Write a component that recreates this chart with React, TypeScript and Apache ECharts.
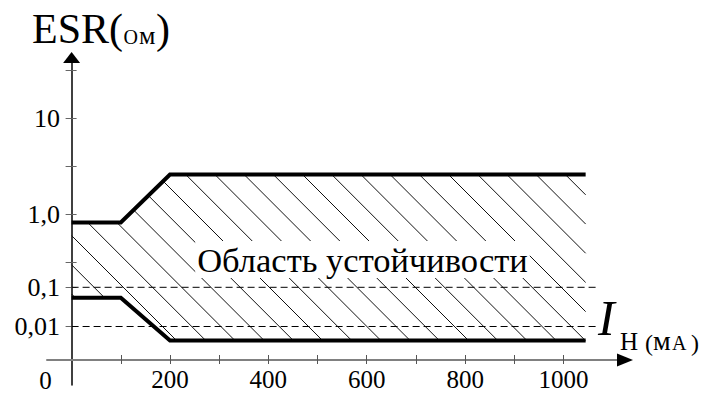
import React, { useEffect, useRef } from "react";
import * as echarts from "echarts";

// ---- data ----
const currentTicks = [100, 200, 300, 400, 500, 600, 700, 800, 900, 1000];
const currentLabels = [200, 400, 600, 800, 1000];

const esrLabelValues = [0.01, 0.1, 1, 10];
const esrLabelTexts = ["0,01", "0,1", "1,0", "10"];
const esrMinorTicks = [0.22, 3.2, 100];

// axis scale definition (schematic, non-uniform ESR axis)
const esrScaleValues = [0, 0.01, 0.1, 1, 10, 100];
const esrScaleLevels = [0, 33.5, 72.7, 145.3, 242, 290];

const upperCurrent = [0, 100, 200, 1045];
const upperEsr = [0.78, 0.78, 2.6, 2.6];
const lowerCurrent = [0, 100, 200, 1045];
const lowerEsr = [0.054, 0.054, 0.0058, 0.0058];

const guideEsr = [0.1, 0.01];
const guideCurrent = [0, 1066];

const FONT = "'Liberation Serif', 'Times New Roman', serif";

function esrLevel(v: number): number {
  if (v <= esrScaleValues[1]) return (v / esrScaleValues[1]) * esrScaleLevels[1];
  const n = esrScaleValues.length;
  for (let i = 1; i < n - 1; i++) {
    const a = esrScaleValues[i];
    const b = esrScaleValues[i + 1];
    if (v <= b || i === n - 2) {
      const t = (Math.log10(v) - Math.log10(a)) / (Math.log10(b) - Math.log10(a));
      return esrScaleLevels[i] + t * (esrScaleLevels[i + 1] - esrScaleLevels[i]);
    }
  }
  return 0;
}

const yLabelLevels = esrLabelValues.map(esrLevel);
const yTickLevels = esrLabelValues.concat(esrMinorTicks).map(esrLevel);

function labelFor(v: number): string {
  let best = 0;
  let bd = Infinity;
  yLabelLevels.forEach((l, i) => {
    const d = Math.abs(l - v);
    if (d < bd) {
      bd = d;
      best = i;
    }
  });
  return esrLabelTexts[best];
}

function interpY(pts: number[][], x: number): number {
  if (x <= pts[0][0]) return pts[0][1];
  for (let i = 0; i < pts.length - 1; i++) {
    if (x <= pts[i + 1][0]) {
      const t = (x - pts[i][0]) / (pts[i + 1][0] - pts[i][0]);
      return pts[i][1] + t * (pts[i + 1][1] - pts[i][1]);
    }
  }
  return pts[pts.length - 1][1];
}

function bisect(fn: (x: number) => number, a: number, b: number): number {
  let lo = a;
  let hi = b;
  for (let k = 0; k < 40; k++) {
    const m = (lo + hi) / 2;
    if (fn(m) < 0) lo = m;
    else hi = m;
  }
  return (lo + hi) / 2;
}

function renderHatch(params: any, api: any) {
  const up = upperCurrent.map((c, i) => api.coord([c, esrLevel(upperEsr[i])]));
  const lo = lowerCurrent.map((c, i) => api.coord([c, esrLevel(lowerEsr[i])]));
  const xL = up[0][0];
  const xR = up[up.length - 1][0];
  const origin = api.coord([0, 0]);
  const spacing = 29.2;
  const slope = 1;
  const phase = 7.6;
  // hatch lines: y = slope * x - c
  const c0 = slope * origin[0] - origin[1] + phase;
  const cMin = slope * xL - 400;
  const cMax = slope * xR - 100;
  const kMin = Math.floor((cMin - c0) / spacing);
  const kMax = Math.ceil((cMax - c0) / spacing);
  const children: any[] = [];
  for (let k = kMin; k <= kMax; k++) {
    const c = c0 + k * spacing;
    const f = (x: number) => slope * x - c - interpY(up, x);
    const g = (x: number) => slope * x - c - interpY(lo, x);
    if (f(xR) < 0) continue;
    if (g(xL) > 0) continue;
    const xa = f(xL) >= 0 ? xL : bisect(f, xL, xR);
    const xb = g(xR) <= 0 ? xR : bisect(g, xL, xR);
    if (xb - xa < 0.5) continue;
    children.push({
      type: "line",
      shape: { x1: xa, y1: slope * xa - c, x2: xb, y2: slope * xb - c },
      style: { stroke: "#111", lineWidth: 1 },
    });
  }
  return { type: "group", children };
}

export default function App() {
  const ref = useRef<HTMLDivElement>(null);
  useEffect(() => {
    if (!ref.current) return;
    const chart = echarts.init(ref.current, undefined, { renderer: "svg" });
    const xBase = {
      type: "value",
      min: -50,
      max: 1125,
      splitLine: { show: false },
    };
    const yBase = {
      type: "value",
      min: -25,
      max: 302.5,
      splitLine: { show: false },
    };
    const option: any = {
      animation: false,
      backgroundColor: "#fff",
      grid: { left: 47, right: 82, top: 57.5, bottom: 9, containLabel: false, outerBoundsMode: "none" },
      xAxis: [
        {
          ...xBase,
          axisLine: { show: true, onZero: true, onZeroAxisIndex: 0, lineStyle: { color: "#808080", width: 2 } },
          axisTick: { show: true, customValues: currentTicks, length: 4, lineStyle: { color: "#555", width: 1 } },
          axisLabel: {
            customValues: currentLabels,
            formatter: (v: number) => String(v),
            margin: -15.5,
            lineHeight: 20,
            color: "#000",
            fontFamily: FONT,
            fontSize: 25,
          },
        },
        {
          ...xBase,
          position: "bottom",
          axisLine: {
            show: true,
            onZero: true,
            onZeroAxisIndex: 0,
            symbol: ["none", "triangle"],
            symbolSize: [13, 16],
            lineStyle: { color: "#000", width: 0 },
          },
          axisTick: { show: true, inside: true, customValues: currentTicks, length: 5, lineStyle: { color: "#555", width: 1 } },
          axisLabel: { show: false },
        },
      ],
      yAxis: [
        {
          ...yBase,
          position: "left",
          axisLine: {
            show: true,
            onZero: true,
            onZeroAxisIndex: 0,
            symbol: ["none", "triangle"],
            symbolSize: [17, 11],
            lineStyle: { color: "#000", width: 1.5 },
          },
          axisTick: { show: true, customValues: yTickLevels, length: 6, lineStyle: { color: "#666", width: 1 } },
          axisLabel: {
            customValues: yLabelLevels,
            formatter: (v: number) => labelFor(v),
            margin: -13,
            color: "#000",
            fontFamily: FONT,
            fontSize: 26,
          },
        },
        {
          ...yBase,
          position: "left",
          axisLine: { show: false, onZero: true, onZeroAxisIndex: 0 },
          axisTick: { show: true, inside: true, customValues: yTickLevels, length: 5, lineStyle: { color: "#666", width: 1 } },
          axisLabel: { show: false },
        },
      ],
      series: [
        {
          type: "custom",
          name: "Hatch",
          xAxisIndex: 0,
          yAxisIndex: 0,
          renderItem: renderHatch,
          data: [[0, 0]],
          silent: true,
          z: 1,
          clip: false,
        },
        ...guideEsr.map((e) => ({
          type: "line",
          name: "ESR " + e,
          xAxisIndex: 0,
          yAxisIndex: 0,
          data: guideCurrent.map((c) => [c, esrLevel(e)]),
          showSymbol: false,
          symbol: "none",
          silent: true,
          lineStyle: { color: "#000", width: 1, type: [7, 4] },
          z: 2,
        })),
        {
          type: "line",
          name: "Upper",
          xAxisIndex: 0,
          yAxisIndex: 0,
          data: upperCurrent.map((c, i) => [c, esrLevel(upperEsr[i])]),
          showSymbol: false,
          symbol: "none",
          silent: true,
          lineStyle: { color: "#000", width: 4, cap: "butt", join: "miter" },
          z: 3,
        },
        {
          type: "line",
          name: "Lower",
          xAxisIndex: 0,
          yAxisIndex: 0,
          data: lowerCurrent.map((c, i) => [c, esrLevel(lowerEsr[i])]),
          showSymbol: false,
          symbol: "none",
          silent: true,
          lineStyle: { color: "#000", width: 4, cap: "butt", join: "miter" },
          z: 3,
        },
      ],
      graphic: [
        {
          type: "text",
          x: 362.5,
          y: 259.5,
          z: 10,
          style: {
            text: "Область устойчивости",
            fill: "#000",
            font: "34.5px " + FONT,
            align: "center",
            verticalAlign: "middle",
            backgroundColor: "#fff",
            padding: [1, 2, 1, 2],
          },
        },
        { type: "text", x: 32, y: 28.7, z: 10, style: { text: "ESR(", fill: "#000", font: "42px " + FONT, align: "left", verticalAlign: "middle" } },
        { type: "text", x: 123.5, y: 37, z: 10, style: { text: "О", fill: "#000", font: "20px " + FONT, align: "left", verticalAlign: "middle" } },
        { type: "text", x: 139, y: 35.5, z: 10, style: { text: "м", fill: "#000", font: "26px " + FONT, align: "left", verticalAlign: "middle" } },
        { type: "text", x: 156, y: 28.7, z: 10, style: { text: ")", fill: "#000", font: "42px " + FONT, align: "left", verticalAlign: "middle" } },
        { type: "text", x: 45.5, y: 380.5, z: 10, style: { text: "0", fill: "#000", font: "25px " + FONT, lineHeight: 20, align: "center", verticalAlign: "middle" } },
        { type: "text", x: 598, y: 318, z: 10, style: { text: "I", fill: "#000", font: "italic 50px " + FONT, align: "left", verticalAlign: "middle" } },
        { type: "text", x: 620, y: 341.5, z: 10, style: { text: "Н", fill: "#000", font: "25px " + FONT, align: "left", verticalAlign: "middle" } },
        { type: "text", x: 645, y: 342.5, z: 10, style: { text: "(", fill: "#000", font: "24px " + FONT, align: "left", verticalAlign: "middle" } },
        { type: "text", x: 653, y: 340.5, z: 10, style: { text: "м", fill: "#000", font: "28px " + FONT, align: "left", verticalAlign: "middle" } },
        { type: "text", x: 672, y: 343, z: 10, style: { text: "А", fill: "#000", font: "20px " + FONT, align: "left", verticalAlign: "middle" } },
        { type: "text", x: 691, y: 342.5, z: 10, style: { text: ")", fill: "#000", font: "24px " + FONT, align: "left", verticalAlign: "middle" } },
      ],
    };
    chart.setOption(option);
    return () => chart.dispose();
  }, []);
  return <div ref={ref} style={{ width: 707, height: 394, position: "absolute", left: 0, top: 0 }} />;
}
